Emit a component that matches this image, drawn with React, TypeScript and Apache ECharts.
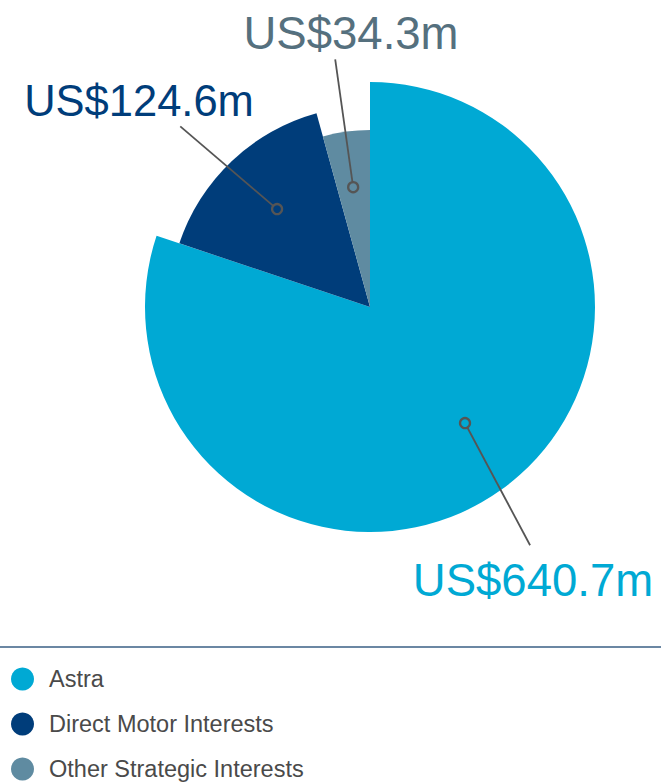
import React, { useEffect, useRef } from "react";
import * as echarts from "echarts";

const categories = ["Astra", "Direct Motor Interests", "Other Strategic Interests"];
const values = [640.7, 124.6, 34.3];
const valueLabels = ["US$640.7m", "US$124.6m", "US$34.3m"];

const sliceColors = ["#00A9D4", "#003D7A", "#5F8BA1"];
const labelColors = ["#00A9D4", "#003D7A", "#55707E"];

// layout (pixels)
const CX = 370;
const CY = 307;
const RADII = [225, 201, 177];
const LABEL_OFFSETS: [number, number][] = [
  [163, 273],
  [-231, -206],
  [-19, -274],
];
const LABEL_SIZES = [45.5, 43.5, 45.5];
// callout anchors in polar form: [angleDeg (ccw from +x), distance]
const INNER: [number, number][] = [
  [-50.7, 150],
  [133.5, 135],
  [98, 121],
];
const OUTER: [number, number][] = [
  [-56.1, 287],
  [136.4, 262],
  [98, 250],
];

const polar = (a: number, d: number): [number, number] => {
  const r = (a * Math.PI) / 180;
  return [CX + d * Math.cos(r), CY - d * Math.sin(r)];
};

export default function App() {
  const ref = useRef<HTMLDivElement>(null);

  useEffect(() => {
    if (!ref.current) return;
    const chart = echarts.init(ref.current, null, { renderer: "svg" });

    const series = categories.map((_, k) => ({
      type: "pie",
      center: [CX, CY],
      radius: [0, RADII[k]],
      startAngle: 90,
      clockwise: true,
      avoidLabelOverlap: false,
      silent: true,
      z: 2 + k,
      emphasis: { disabled: true },
      itemStyle: { borderWidth: 0 },
      label: {
        show: true,
        position: "outside",
        formatter: (p: any) => valueLabels[p.dataIndex],
        color: labelColors[k],
        fontSize: LABEL_SIZES[k],
        fontFamily: "Liberation Sans, Arial, sans-serif",
      },
      labelLine: { show: false },
      labelLayout: (p: any) =>
        p.dataIndex === k
          ? {
              x: CX + LABEL_OFFSETS[k][0],
              y: CY + LABEL_OFFSETS[k][1],
              align: "center",
              verticalAlign: "middle",
            }
          : {},
      data: categories.map((name, i) => ({
        name,
        value: values[i],
        itemStyle: { color: i === k ? sliceColors[i] : "rgba(0,0,0,0)", borderWidth: 0 },
        label: { show: i === k },
        labelLine: { show: false },
      })),
    }));

    const callouts: any[] = [];
    categories.forEach((_, k) => {
      const [ix, iy] = polar(INNER[k][0], INNER[k][1]);
      const [ox, oy] = polar(OUTER[k][0], OUTER[k][1]);
      const dx = ox - ix;
      const dy = oy - iy;
      const len = Math.sqrt(dx * dx + dy * dy);
      const cr = 5;
      callouts.push({
        type: "line",
        z: 100,
        shape: { x1: ix + (dx / len) * cr, y1: iy + (dy / len) * cr, x2: ox, y2: oy },
        style: { stroke: "#555555", lineWidth: 1.8 },
      });
      callouts.push({
        type: "circle",
        z: 100,
        shape: { cx: ix, cy: iy, r: cr },
        style: { fill: "transparent", stroke: "#555555", lineWidth: 2.3 },
      });
    });

    chart.setOption({
      animation: false,
      backgroundColor: "#ffffff",
      legend: {
        orient: "vertical",
        left: 11,
        top: 667,
        padding: 0,
        icon: "circle",
        itemWidth: 23,
        itemHeight: 23,
        itemGap: 21,
        selectedMode: false,
        textStyle: {
          fontSize: 23.5,
          color: "#4a4a4a",
          fontFamily: "Liberation Sans, Arial, sans-serif",
          padding: [0, 0, 0, 10],
        },
        data: categories.map((name, i) => ({ name, itemStyle: { color: sliceColors[i] } })),
      },
      graphic: [
        {
          type: "line",
          shape: { x1: 0, y1: 647, x2: 661, y2: 647 },
          style: { stroke: "#3A5F85", lineWidth: 1.5 },
        },
        ...callouts,
      ],
      series,
    });

    return () => chart.dispose();
  }, []);

  return (
    <div
      ref={ref}
      style={{ position: "fixed", left: 0, top: 0, width: 661, height: 782, background: "#fff" }}
    />
  );
}
